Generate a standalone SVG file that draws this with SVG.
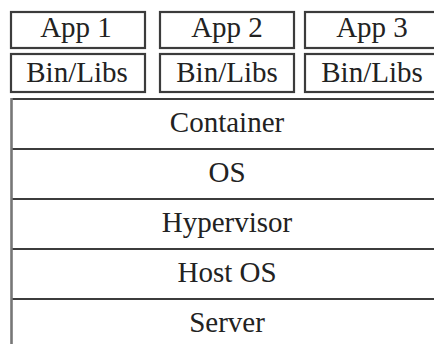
<svg xmlns="http://www.w3.org/2000/svg" width="434" height="344" viewBox="0 0 434 344">
<style>
.box{fill:#fff;stroke:#3c3c3c;stroke-width:2.2}
.ln{stroke:#3c3c3c;stroke-width:2.2;fill:none}
.edge{stroke:#777;stroke-width:2.6;fill:none}
text{font-family:"Liberation Serif","Times New Roman",serif;font-size:29px;fill:#222;text-anchor:middle}
</style>
<rect width="434" height="344" fill="#fff"/>
<g id="app1"><rect class="box" x="11" y="12" width="134" height="36"/><text x="76" y="37">App 1</text></g>
<g id="app2"><rect class="box" x="160" y="12" width="134" height="36"/><text x="227" y="37">App 2</text></g>
<g id="app3"><rect class="box" x="305" y="12" width="134" height="36"/><text x="372" y="37">App 3</text></g>
<g id="bin1"><rect class="box" x="11" y="54" width="134" height="38"/><text x="77" y="82">Bin/Libs</text></g>
<g id="bin2"><rect class="box" x="160" y="54" width="134" height="38"/><text x="227" y="82">Bin/Libs</text></g>
<g id="bin3"><rect class="box" x="305" y="54" width="134" height="38"/><text x="372" y="82">Bin/Libs</text></g>
<g id="container"><line class="ln" x1="11" y1="99" x2="434" y2="99"/><text x="227" y="132">Container</text></g>
<g id="os"><line class="ln" x1="11" y1="149" x2="434" y2="149"/><text x="227" y="182">OS</text></g>
<g id="hypervisor"><line class="ln" x1="11" y1="199" x2="434" y2="199"/><text x="227" y="232">Hypervisor</text></g>
<g id="hostos"><line class="ln" x1="11" y1="249" x2="434" y2="249"/><text x="227" y="282">Host OS</text></g>
<g id="server"><line class="ln" x1="11" y1="299" x2="434" y2="299"/><text x="227" y="332">Server</text></g>
<g id="connectors"><line class="edge" x1="11.5" y1="98" x2="11.5" y2="344"/></g>
</svg>
